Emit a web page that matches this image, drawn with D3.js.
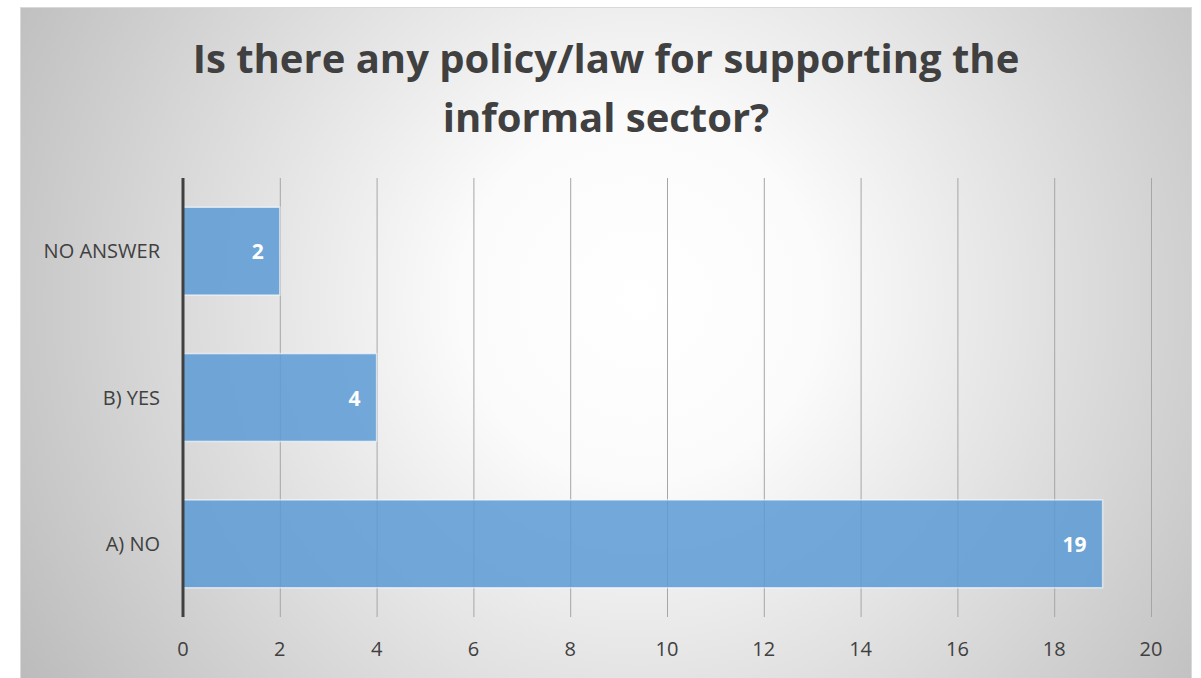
<!DOCTYPE html>
<html>
<head>
<meta charset="utf-8">
<script src="https://cdn.jsdelivr.net/npm/d3@7"></script>
<style>
html,body{margin:0;padding:0;background:#fff;}
svg{display:block;}
</style>
</head>
<body>
<svg id="chart" width="1201" height="678"></svg>
<script>
const titleLines = ["Is there any policy/law for supporting the", "informal sector?"];
const categories = ["NO ANSWER", "B) YES", "A) NO"];
const values = [2, 4, 19];
const xTicks = [0, 2, 4, 6, 8, 10, 12, 14, 16, 18, 20];

const svg = d3.select("#chart");
const font = "'Open Sans', sans-serif";

const defs = svg.append("defs");
const grad = defs.append("radialGradient").attr("id", "bg")
  .attr("gradientUnits", "userSpaceOnUse")
  .attr("cx", 640).attr("cy", 300).attr("r", 720);
grad.append("stop").attr("offset", "0").attr("stop-color", "#ffffff");
grad.append("stop").attr("offset", "0.25").attr("stop-color", "#fbfbfb");
grad.append("stop").attr("offset", "1").attr("stop-color", "#bcbcbc");

svg.append("rect").attr("x", 20.5).attr("y", 7.5).attr("width", 1171).attr("height", 700)
  .attr("fill", "url(#bg)").attr("stroke", "#d9d9d9").attr("stroke-width", 1);

const m = {left: 183, right: 1151, top: 178, bottom: 617};
const x = d3.scaleLinear().domain([0, 20]).range([m.left, m.right]);
const y = d3.scaleBand().domain(categories).range([m.top, m.bottom]).paddingInner(0.4).paddingOuter(0.2);

// title
const t = svg.append("text").attr("text-anchor", "middle").attr("font-family", font)
  .attr("font-weight", 700).attr("font-size", 40).attr("fill", "#404040");
titleLines.forEach((l, i) => t.append("tspan").attr("x", 606).attr("y", 73 + i * 59).text(l));

// gridlines
svg.append("g").selectAll("line").data(xTicks.filter(d => d > 0)).join("line")
  .attr("x1", d => x(d) + 0.5).attr("x2", d => x(d) + 0.5)
  .attr("y1", m.top).attr("y2", m.bottom)
  .attr("stroke", "#a6a6a6").attr("stroke-width", 1);

// bars
svg.append("g").selectAll("rect").data(values).join("rect")
  .attr("x", x(0)).attr("y", (d, i) => y(categories[i]))
  .attr("width", d => x(d) - x(0)).attr("height", y.bandwidth())
  .attr("fill", "#5b9bd5").attr("fill-opacity", 0.85)
  .attr("stroke", "#ffffff").attr("stroke-opacity", 0.6).attr("stroke-width", 1.5);

// value labels
svg.append("g").selectAll("text").data(values).join("text")
  .attr("x", d => x(d) - 16).attr("y", (d, i) => y(categories[i]) + y.bandwidth() / 2 + 8)
  .attr("text-anchor", "end").attr("font-family", font).attr("font-weight", 700)
  .attr("font-size", 21).attr("fill", "#ffffff").text(d => d);

// y axis line
svg.append("line").attr("x1", x(0)).attr("x2", x(0)).attr("y1", m.top).attr("y2", m.bottom)
  .attr("stroke", "#404040").attr("stroke-width", 3);

// category labels
svg.append("g").selectAll("text").data(categories).join("text")
  .attr("x", 160).attr("y", d => y(d) + y.bandwidth() / 2 + 7)
  .attr("text-anchor", "end").attr("font-family", font).attr("font-size", 20)
  .attr("fill", "#404040").text(d => d);

// x tick labels
svg.append("g").selectAll("text").data(xTicks).join("text")
  .attr("x", d => x(d)).attr("y", 656)
  .attr("text-anchor", "middle").attr("font-family", font).attr("font-size", 20)
  .attr("fill", "#404040").text(d => d);
</script>
</body>
</html>
